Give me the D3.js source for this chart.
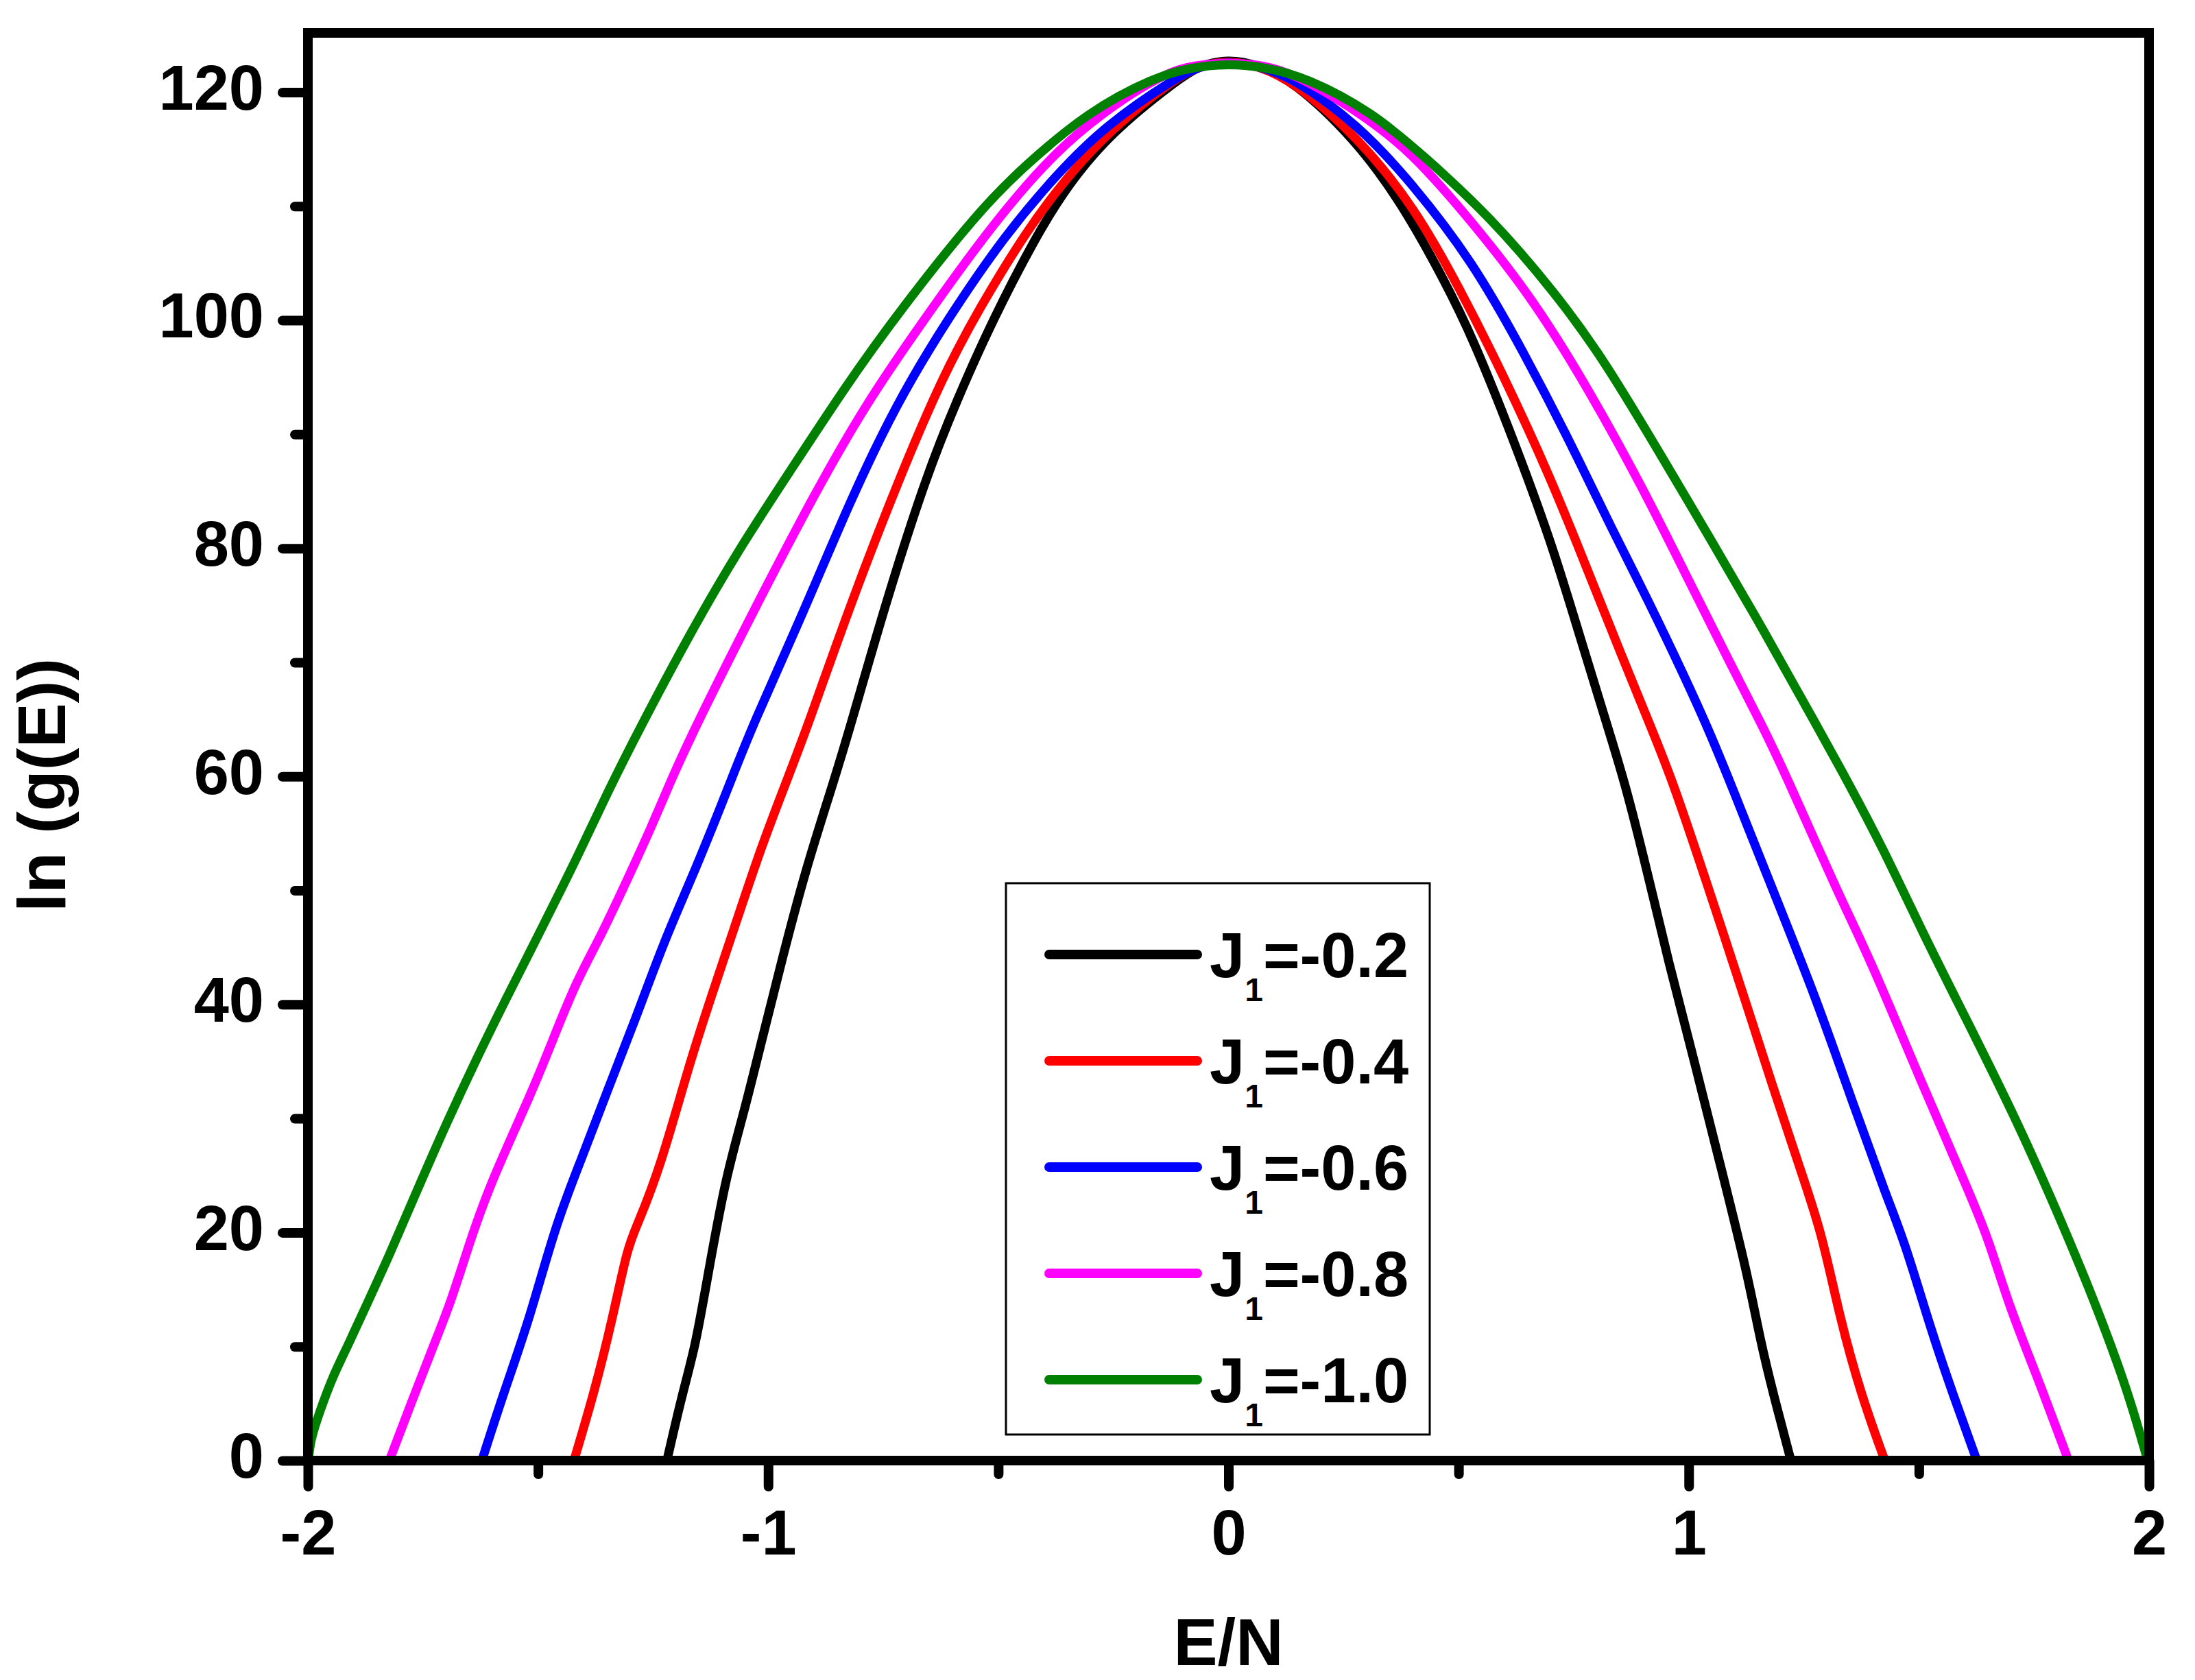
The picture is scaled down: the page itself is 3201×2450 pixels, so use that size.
<!DOCTYPE html>
<html>
<head>
<meta charset="utf-8">
<script src="https://cdn.jsdelivr.net/npm/d3@7/dist/d3.min.js"></script>
<style>
  html, body { margin: 0; padding: 0; background: #fff; }
  svg { display: block; }
  text { font-family: "Liberation Sans", Arial, Helvetica, sans-serif; font-weight: bold; fill: #000; }
</style>
</head>
<body>
<svg id="chart" width="3201" height="2450"></svg>
<script>
// ---- data ----
const seriesLabels = ["-0.2", "-0.4", "-0.6", "-0.8", "-1.0"];
const seriesColors = ["#000000", "#ff0000", "#0000ff", "#ff00ff", "#008000"];

const E_02 = [-1.220,-1.187,-1.158,-1.130,-1.092,-1.054,-1.016,-0.969,-0.919,-0.858,-0.822,-0.742,-0.656,-0.590,-0.514,-0.419,-0.352,-0.257,-0.114,-0.060,0.000,0.065,0.140,0.273,0.378,0.473,0.530,0.615,0.701,0.758,0.824,0.861,0.909,0.956,1.013,1.070,1.127,1.156,1.184,1.222];
const G_02 = [0,5.8,10.0,16.5,24.9,30.3,36.5,44.1,51.8,59.5,64.3,75.6,86.4,93.0,99.9,107.3,111.7,116.4,121.0,122.4,122.9,122.4,121.0,116.0,110.2,103.2,98.5,90.0,80.6,73.0,64.3,59.5,51.8,43.7,34.9,25.7,16.5,10.4,5.8,0];

const E_04 = [-1.422,-1.377,-1.339,-1.305,-1.287,-1.234,-1.168,-1.111,-1.063,-1.016,-0.961,-0.915,-0.827,-0.713,-0.618,-0.542,-0.438,-0.352,-0.257,-0.114,-0.060,0.000,0.065,0.140,0.283,0.406,0.501,0.596,0.701,0.777,0.853,0.918,0.966,1.042,1.108,1.184,1.241,1.289,1.327,1.374,1.426];
const G_04 = [0,6.1,12.3,18.8,20.4,25.7,35.3,42.2,48.0,53.7,59.5,64.3,74.5,86.4,95.3,101.0,107.9,112.5,116.7,121.3,122.3,122.8,122.3,121.0,116.0,109.8,102.9,95.3,86.1,78.4,70.7,64.3,59.5,50.3,42.2,32.6,25.7,20.0,12.7,5.8,0];

const E_06 = [-1.622,-1.576,-1.519,-1.462,-1.405,-1.348,-1.291,-1.225,-1.158,-1.082,-1.036,-0.922,-0.827,-0.723,-0.609,-0.485,-0.371,-0.267,-0.114,-0.060,0.000,0.065,0.140,0.283,0.397,0.530,0.644,0.739,0.834,0.910,0.995,1.043,1.090,1.184,1.279,1.355,1.431,1.469,1.526,1.574,1.626];
const G_06 = [0,5.8,12.3,20.7,26.5,32.6,38.4,45.7,51.8,59.5,64.3,74.5,83.7,92.6,100.2,107.5,112.9,117.1,121.3,122.3,122.7,122.3,121.3,117.1,112.1,105.2,97.0,89.6,81.6,75.6,68.4,64.1,59.5,49.9,40.3,31.5,23.0,19.2,11.5,5.8,0];

const E_08 = [-1.823,-1.776,-1.728,-1.690,-1.648,-1.605,-1.510,-1.472,-1.415,-1.367,-1.310,-1.253,-1.213,-1.159,-1.027,-0.903,-0.789,-0.666,-0.542,-0.428,-0.314,-0.143,-0.070,0.000,0.070,0.140,0.283,0.397,0.530,0.663,0.786,0.900,0.995,1.090,1.162,1.218,1.327,1.393,1.507,1.602,1.650,1.697,1.754,1.825];
const G_08 = [0,5.0,10.0,13.8,19.2,24.2,32.6,36.5,42.2,45.7,50.6,55.6,59.5,64.3,74.9,84.5,92.6,99.8,106.8,112.5,117.1,121.7,122.4,122.6,122.4,121.7,118.3,114.8,108.6,101.8,93.7,85.3,77.6,69.9,64.3,59.5,49.5,44.1,33.0,24.2,19.6,13.4,7.7,0];

const E_10 = [-1.999,-1.994,-1.975,-1.947,-1.914,-1.871,-1.823,-1.766,-1.700,-1.633,-1.567,-1.519,-1.462,-1.415,-1.348,-1.278,-1.169,-1.064,-0.960,-0.827,-0.713,-0.542,-0.447,-0.305,-0.162,-0.080,0.000,0.080,0.169,0.311,0.425,0.568,0.710,0.815,0.948,1.043,1.166,1.280,1.346,1.422,1.507,1.593,1.716,1.821,1.887,1.954,1.997];
const G_10 = [0,1.9,4.2,7.3,10.0,13.8,18.0,23.4,29.5,35.3,40.7,44.5,49.1,52.9,58.7,64.3,72.6,79.9,86.3,94.5,100.9,109.6,113.4,118.3,121.3,122.2,122.5,122.2,121.3,118.3,114.4,109.1,102.4,96.6,87.6,81.1,72.6,64.3,59.5,53.7,46.4,39.5,29.6,19.9,13.4,6.1,0];

const xMajorTicks = [-2, -1, 0, 1, 2];
const xMinorTicks = [-1.5, -0.5, 0.5, 1.5];
const yMajorTicks = [0, 20, 40, 60, 80, 100, 120];
const yMinorTicks = [10, 30, 50, 70, 90, 110];
const xTitle = "E/N";
const yTitle = "ln (g(E))";

const seriesE = [E_02, E_04, E_06, E_08, E_10];
const seriesG = [G_02, G_04, G_06, G_08, G_10];

// ---- layout ----
const pLeft = 449, pRight = 3134, pTop = 48, pBottom = 2130;
const svg = d3.select("#chart");

const x = d3.scaleLinear().domain([-2, 2]).range([pLeft, pRight]);
const y = d3.scaleLinear().domain([0, 125.2]).range([pBottom, pTop]);

// curves
const line = d3.line().x(d => x(d[0])).y(d => y(d[1])).curve(d3.curveBasis);
const curves = svg.append("g");
seriesE.forEach((E, i) => {
  const pts = E.map((e, j) => [e, seriesG[i][j]]);
  curves.append("path")
    .attr("d", line(pts))
    .attr("fill", "none")
    .attr("stroke", seriesColors[i])
    .attr("stroke-width", 13)
    .attr("stroke-linejoin", "round");
});

// frame
svg.append("rect")
  .attr("x", pLeft).attr("y", pTop)
  .attr("width", pRight - pLeft).attr("height", pBottom - pTop)
  .attr("fill", "none").attr("stroke", "#000").attr("stroke-width", 14);

function styleAxis(g) {
  g.select(".domain").remove();
  g.selectAll(".tick line").attr("stroke", "#000").attr("stroke-width", 14).attr("stroke-linecap", "round");
  g.selectAll(".tick text").attr("font-size", 92).attr("font-weight", "bold")
    .attr("font-family", '"Liberation Sans", Arial, sans-serif').attr("fill", "#000");
}
const plainFmt = d => String(d);

// y axis
svg.append("g").attr("transform", `translate(${pLeft},0)`)
  .call(d3.axisLeft(y).tickValues(yMajorTicks).tickSize(37).tickPadding(27).tickFormat(plainFmt))
  .call(styleAxis)
  .call(g => g.selectAll(".tick text").attr("dy", "0.27em"));
svg.append("g").attr("transform", `translate(${pLeft},0)`)
  .call(d3.axisLeft(y).tickValues(yMinorTicks).tickSize(19).tickFormat(""))
  .call(styleAxis);

// x axis
svg.append("g").attr("transform", `translate(0,${pBottom})`)
  .call(d3.axisBottom(x).tickValues(xMajorTicks).tickSize(38).tickPadding(34).tickFormat(plainFmt))
  .call(styleAxis);
svg.append("g").attr("transform", `translate(0,${pBottom})`)
  .call(d3.axisBottom(x).tickValues(xMinorTicks).tickSize(20).tickFormat(""))
  .call(styleAxis);

// axis titles
svg.append("text")
  .attr("x", (pLeft + pRight) / 2).attr("y", 2428)
  .attr("text-anchor", "middle").attr("font-size", 96)
  .text(xTitle);
svg.append("text")
  .attr("transform", "translate(95,1145) rotate(-90)")
  .attr("text-anchor", "middle").attr("font-size", 98)
  .text(yTitle);

// legend
const lg = svg.append("g");
lg.append("rect")
  .attr("x", 1467).attr("y", 1288).attr("width", 618).attr("height", 804)
  .attr("fill", "#fff").attr("stroke", "#000").attr("stroke-width", 3);
seriesLabels.forEach((lab, i) => {
  const cy = 1392 + i * 155;
  lg.append("line")
    .attr("x1", 1530).attr("x2", 1746).attr("y1", cy).attr("y2", cy)
    .attr("stroke", seriesColors[i]).attr("stroke-width", 14).attr("stroke-linecap", "round");
  const t = lg.append("text").attr("x", 1764).attr("y", cy + 33).attr("font-size", 92);
  t.append("tspan").text("J");
  t.append("tspan").attr("font-size", 48).attr("dy", 35).text("1");
  t.append("tspan").attr("font-size", 92).attr("dy", -35).text("=" + lab);
});
</script>
</body>
</html>
